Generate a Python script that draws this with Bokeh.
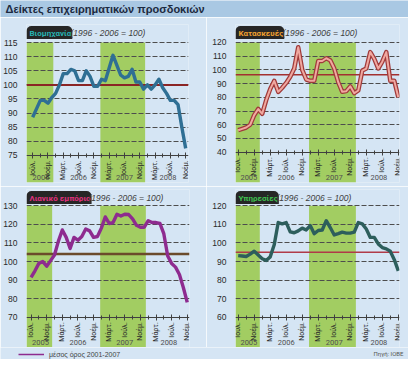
import math
from bokeh.plotting import figure
from bokeh.models import (FixedTicker, LinearAxis, Span, Label, Legend, LegendItem,
                          Range1d, Grid)
from bokeh.layouts import column, row
from bokeh.embed import file_html
from bokeh.resources import INLINE
from bokeh.core.properties import value

TITLE = "Δείκτες επιχειρηματικών προσδοκιών"
SUBTITLE = "(1996 - 2006 = 100)"
LEGEND_TEXT = "μέσος όρος 2001-2007"
SOURCE = "Πηγή: ΙΟΒΕ"

# month index counted from Jan 2005 = 0; data run Jul 2005 .. Nov 2008
months = list(range(6, 47))
tick_months = list(range(6, 47, 4))
minor_months = list(range(8, 47, 4))
tick_names = ["Ιούλ.", "Νοέμ.", "Μάρτ."]
years = [2005, 2006, 2007, 2008]
shaded_years = [2005, 2007]

industry = [88.5, 91.5, 94.5, 94.5, 93.5, 95.5, 97, 100, 104, 104,
            105.5, 105, 101.5, 101.5, 105, 103, 99.5, 99.5, 102, 101.5,
            106, 110.5, 107, 103.5, 102.5, 103, 105.5, 101, 101, 98.5,
            100, 98.5, 100, 102, 99, 97, 94.5, 94.5, 93, 85,
            77.5]
construction = [56, 57, 58, 60, 67, 71.5, 68, 78, 86, 92,
                84, 87, 90.5, 95, 101, 116.5, 100, 93, 92, 92,
                106.5, 106.5, 108.5, 107, 101, 91, 84, 84.5, 88, 83,
                85, 99.5, 101, 113, 108, 101, 106, 113, 92, 92,
                80]
retail = [91.5, 95, 99, 100, 97.5, 100.5, 103.5, 111, 117, 113,
          107, 113, 111.5, 113.5, 117.5, 116.5, 113, 113.5, 118, 124,
          120.5, 121, 125.5, 124.5, 125.5, 125.3, 123, 119.5, 118.5, 118.5,
          122, 121, 121, 120.5, 115, 103, 99, 97, 93, 86,
          78]
services = [93.2, 93, 92.7, 94, 95.6, 93.5, 91.5, 90.6, 92.5, 99,
            111, 110.3, 111, 106, 105.5, 106.5, 108, 107, 109.4, 105,
            106.7, 107, 112, 108.3, 104.3, 105, 105.8, 105.3, 105.3, 105.8,
            111, 110.3, 107.5, 103, 103, 99.5, 97.5, 96.8, 95.5, 91,
            85]

industry_avg = 100
construction_avg = 96.5
retail_avg = 104
services_avg = 95

industry_ticks = [75, 80, 85, 90, 95, 100, 105, 110, 115]
construction_ticks = [40, 50, 60, 70, 80, 90, 100, 110, 120]
retail_ticks = [70, 80, 90, 100, 110, 120, 130]
services_ticks = [60, 70, 80, 90, 100, 110, 120]

BG = "#d5e5f4"
TITLE_BG = "#a9c8e3"
GREEN = "#a2cd62"
FONT = "Liberation Sans"
NARROW = "Roboto"

panels = [
    dict(name="Βιομηχανία", values=industry, avg=industry_avg, ticks=industry_ticks,
         tab_color="#27b3b3", sub_dx=44, line="#2f6f94", avg_color="#8b2525", avg_w=2,
         width=206, height=169, bl=22, br=18, bt=7, bb=4,
         xr=(4.39, 46.74), yr=(65.4, 121.4)),
    dict(name="Κατασκευές", values=construction, avg=construction_avg, ticks=construction_ticks,
         tab_color="#f0a030", sub_dx=47, line="#f0a8a0", outline="#a03a3a", avg_color="#a33030", avg_w=1.5,
         width=202, height=169, bl=29, br=9, bt=7, bb=4,
         xr=(5.33, 46.3), yr=(17.9, 133.1)),
    dict(name="Λιανικό εμπόριο", values=retail, avg=retail_avg, ticks=retail_ticks,
         tab_color="#e0307e", sub_dx=62, line="#8e2b8f", avg_color="#6b4b2b", avg_w=2.5,
         width=206, height=161, bl=22, br=17, bt=3, bb=0,
         xr=(4.83, 46.58), yr=(53.7, 138.8)),
    dict(name="Υπηρεσίες", values=services, avg=services_avg, ticks=services_ticks,
         tab_color="#3fbf4f", sub_dx=41, line="#2d5e5c", avg_color="#b03a48", avg_w=1.5,
         width=202, height=161, bl=29, br=9, bt=3, bb=0,
         xr=(5.33, 46.3), yr=(43.7, 128.8)),
]


def make_panel(s):
    x0, x1 = s["xr"]
    y0, y1 = s["yr"]
    p = figure(width=s["width"], height=s["height"], x_range=Range1d(x0, x1), y_range=Range1d(y0, y1),
               output_backend="svg", toolbar_location=None, x_axis_type=None, y_axis_type=None,
               min_border_left=s["bl"], min_border_right=s["br"], min_border_top=s["bt"],
               min_border_bottom=s["bb"])
    p.background_fill_color = BG
    p.border_fill_color = BG
    p.outline_line_color = None

    ticks = s["ticks"]
    lefts = [max(x0, 12 * (y - 2005) - 0.3) for y in shaded_years]
    rights = [12 * (y - 2005) + 11.4 for y in shaded_years]
    p.quad(left=lefts, right=rights, bottom=y0, top=ticks[-1], color=GREEN, line_color=None,
           level="image")

    grid = Grid(dimension=1, ticker=FixedTicker(ticks=ticks[1:]), grid_line_color="#4d4d4d",
                grid_line_dash="5 2", grid_line_width=1)
    p.add_layout(grid)

    yaxis = LinearAxis(ticker=FixedTicker(ticks=ticks), axis_line_color=None,
                       major_tick_line_color=None, minor_tick_line_color=None,
                       major_label_text_font_size="8.5px", major_label_text_color="#2a2a2a",
                       major_label_text_font=FONT, major_label_standoff=3)
    p.add_layout(yaxis, "left")

    overrides = {m: tick_names[i % 3] for i, m in enumerate(tick_months)}
    xaxis = LinearAxis(ticker=FixedTicker(ticks=tick_months, minor_ticks=minor_months),
                       major_label_overrides=overrides, major_label_orientation=math.pi / 2,
                       fixed_location=ticks[0], axis_line_color="#404040", axis_line_width=1,
                       major_tick_in=3, major_tick_out=3, major_tick_line_color="#404040",
                       minor_tick_in=2, minor_tick_out=2, minor_tick_line_color="#404040",
                       major_label_text_font_size="7px", major_label_text_font=NARROW,
                       major_label_text_color="#2a2a2a", major_label_standoff=2)
    p.add_layout(xaxis, "below")

    span = Span(location=s["avg"], dimension="width", line_color=s["avg_color"],
                line_width=s["avg_w"], level="underlay")
    p.add_layout(span)

    if "outline" in s:
        p.line(months, s["values"], line_color=s["outline"], line_width=4.5, line_join="round")
        p.line(months, s["values"], line_color=s["line"], line_width=2, line_join="round")
    else:
        p.line(months, s["values"], line_color=s["line"], line_width=3.4, line_join="round")

    centers = [(max(x0, 12 * (y - 2005)) + min(x1, 12 * (y - 2004))) / 2 for y in years]
    p.text(x=centers, y=[y0] * len(years), text=[str(y) for y in years], text_align="center",
           text_baseline="middle", y_offset=-5, text_font=value(NARROW), text_font_size="7.5px",
           text_color="#505050")

    tab = Label(x=x0, y=y1, text=s["name"], text_align="left", text_baseline="middle", y_offset=-8,
                text_color=s["tab_color"], text_font=NARROW, text_font_size="8px",
                text_font_style="bold", background_fill_color="#262626", padding=(3, 1, 3, 1),
                border_radius=(5, 5, 0, 0))
    p.add_layout(tab)
    sub = Label(x=x0, y=y1, x_offset=s["sub_dx"], text=SUBTITLE, text_align="left",
                text_baseline="middle", y_offset=-8, text_color="#404040", text_font=FONT,
                text_font_size="8.5px", text_font_style="italic")
    p.add_layout(sub)
    return p


figs = [make_panel(s) for s in panels]

title_fig = figure(width=408, height=17, x_range=Range1d(0, 408), y_range=Range1d(0, 17),
                   output_backend="svg", toolbar_location=None, x_axis_type=None, y_axis_type=None,
                   min_border=0)
title_fig.background_fill_color = TITLE_BG
title_fig.border_fill_color = TITLE_BG
title_fig.outline_line_color = None
title_fig.add_layout(Label(x=5, y=8.5, text=TITLE, text_align="left", text_baseline="middle",
                           text_font=FONT, text_font_size="11px", text_font_style="bold",
                           text_color="#1c2a40"))

leg_fig = figure(width=408, height=12, x_range=Range1d(0, 408), y_range=Range1d(0, 12),
                 output_backend="svg", toolbar_location=None, x_axis_type=None, y_axis_type=None,
                 min_border=0)
leg_fig.background_fill_color = BG
leg_fig.border_fill_color = BG
leg_fig.outline_line_color = None
r = leg_fig.line([float("nan")], [float("nan")], line_color="#8e2b8f", line_width=1.5)
legend = Legend(items=[LegendItem(label=LEGEND_TEXT, renderers=[r])], location=(18, 0),
                glyph_width=26, glyph_height=10, label_height=10, label_standoff=5,
                label_text_font=FONT, label_text_font_size="7px", label_text_color="#444444",
                padding=0, margin=0, spacing=0, background_fill_alpha=0, border_line_alpha=0)
leg_fig.add_layout(legend)
leg_fig.add_layout(Label(x=403, y=6.5, text=SOURCE, text_align="right", text_baseline="middle",
                         text_font=NARROW, text_font_size="6px", text_color="#555555"))

layout = column(title_fig, row(figs[0], figs[1]), row(figs[2], figs[3]), leg_fig)

open("out.html", "w").write(file_html(layout, INLINE))
